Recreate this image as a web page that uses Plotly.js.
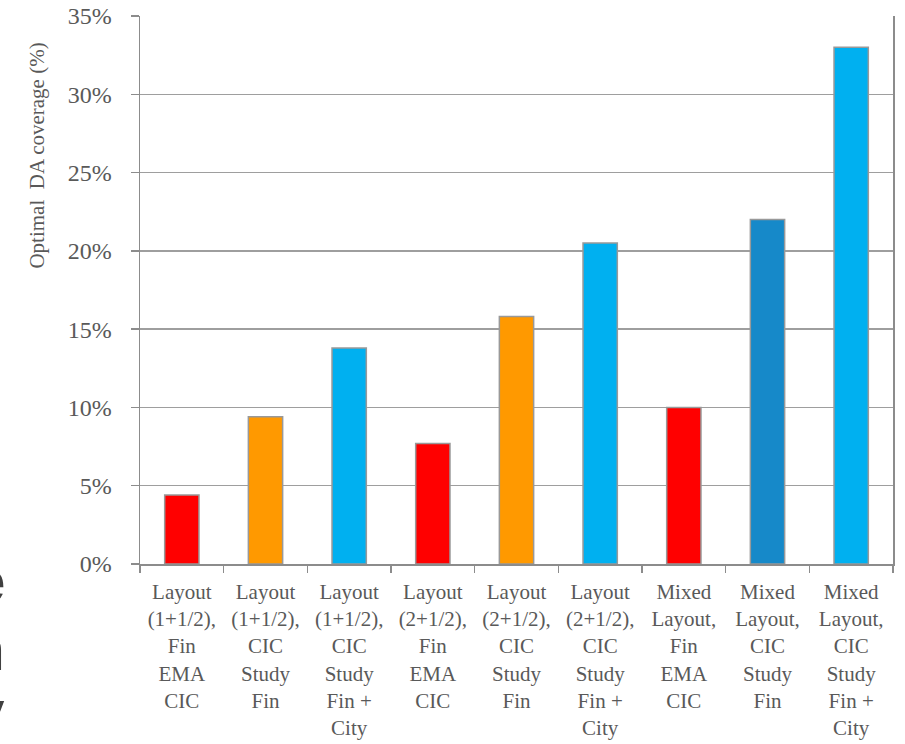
<!DOCTYPE html>
<html>
<head>
<meta charset="utf-8">
<script src="https://cdn.plot.ly/plotly-3.0.1.min.js"></script>
<style>html,body{margin:0;padding:0;background:#fff;}#chart{width:905px;height:744px;}</style>
</head>
<body>
<div id="chart"></div>
<script>
const categories = [
  "Layout<br>(1+1/2),<br>Fin<br>EMA<br>CIC",
  "Layout<br>(1+1/2),<br>CIC<br>Study<br>Fin",
  "Layout<br>(1+1/2),<br>CIC<br>Study<br>Fin +<br>City",
  "Layout<br>(2+1/2),<br>Fin<br>EMA<br>CIC",
  "Layout<br>(2+1/2),<br>CIC<br>Study<br>Fin",
  "Layout<br>(2+1/2),<br>CIC<br>Study<br>Fin +<br>City",
  "Mixed<br>Layout,<br>Fin<br>EMA<br>CIC",
  "Mixed<br>Layout,<br>CIC<br>Study<br>Fin",
  "Mixed<br>Layout,<br>CIC<br>Study<br>Fin +<br>City"
];
const coverage = [4.4, 9.4, 13.8, 7.7, 15.8, 20.5, 10.0, 22.0, 33.0];
const barColors = ["#FF0000", "#FF9900", "#00B0F0", "#FF0000", "#FF9900", "#00B0F0", "#FF0000", "#1689C9", "#00B0F0"];
const yTitle = "Optimal&nbsp;&nbsp;DA coverage (%)";
const edgeLetters = ["e", "n", "y"];

const serif = "Liberation Serif, Times New Roman, serif";
const txt = "#595959";
const grid = "#9e9e9e";

const trace = {
  type: "bar",
  x: categories,
  y: coverage,
  marker: {color: barColors, line: {color: "#999999", width: 1.5}},
  hoverinfo: "skip"
};

const edgeY = [-0.03, -0.155, -0.27];
const annotations = [{
  xref: "paper", yref: "paper", x: -0.137, y: 0.745,
  text: yTitle, textangle: -90, showarrow: false,
  font: {family: serif, size: 21, color: txt},
  xanchor: "center", yanchor: "middle"
}];
edgeLetters.forEach((t, i) => annotations.push({
  xref: "paper", yref: "paper", x: -0.177, y: edgeY[i],
  text: t, showarrow: false, xanchor: "right", yanchor: "middle",
  font: {family: "Liberation Sans, Arial, sans-serif", size: 62, color: "#404040", weight: "bold"}
}));

const layout = {
  width: 905, height: 744,
  margin: {l: 140, r: 12, t: 16, b: 180},
  paper_bgcolor: "#ffffff", plot_bgcolor: "#ffffff",
  showlegend: false,
  bargap: 0.59,
  xaxis: {
    type: "category",
    showline: true, linecolor: "#8c8c8c", linewidth: 1.5,
    ticks: "outside", tickson: "boundaries", ticklen: 7, tickcolor: "#8c8c8c", tickwidth: 1.5,
    showgrid: false, ticklabelstandoff: 8,
    tickfont: {family: serif, size: 21, color: txt},
    fixedrange: true
  },
  yaxis: {
    range: [0, 35], dtick: 5, tick0: 0, ticksuffix: "%",
    showline: true, linecolor: "#8c8c8c", linewidth: 1.5,
    mirror: true,
    ticks: "outside", ticklen: 8, tickcolor: "#8c8c8c", tickwidth: 1.5,
    showgrid: true, gridcolor: grid, gridwidth: 1.5,
    zeroline: false, ticklabelstandoff: 14,
    tickfont: {family: serif, size: 24, color: txt},
    fixedrange: true
  },
  annotations: annotations
};

Plotly.newPlot("chart", [trace], layout, {displayModeBar: false, staticPlot: true});
</script>
</body>
</html>
